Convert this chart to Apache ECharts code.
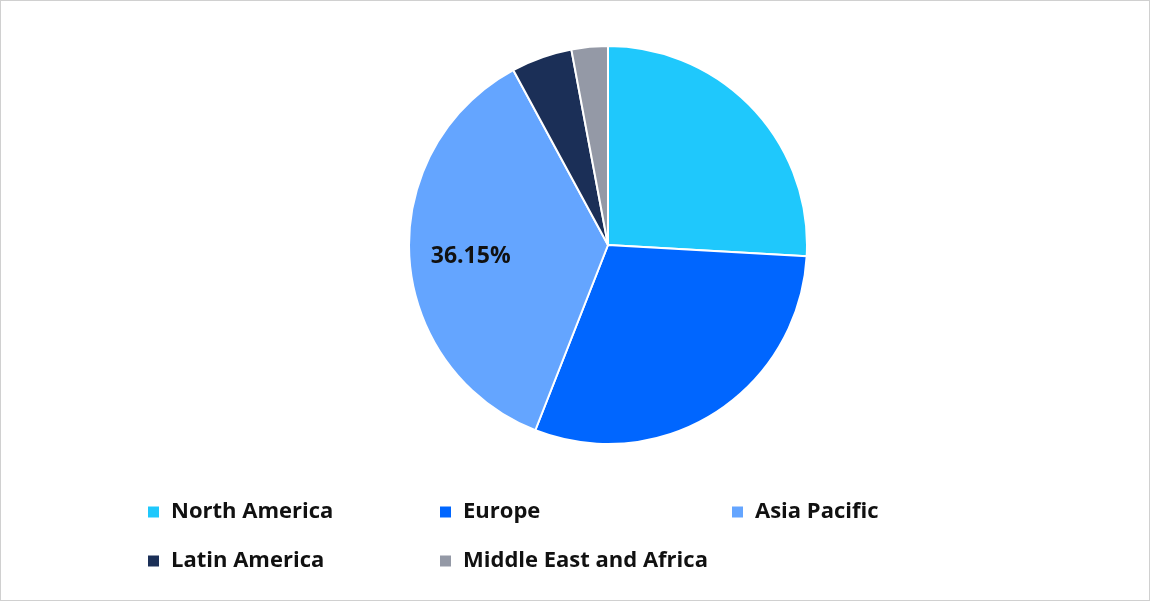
<!DOCTYPE html>
<html><head><meta charset="utf-8">
<script src="https://cdn.jsdelivr.net/npm/echarts@6/dist/echarts.min.js"></script>
<style>html,body{margin:0;padding:0;background:#fff}#c{width:1148px;height:599px;border:1px solid #d0d0d0}</style>
</head><body><div id="c"></div>
<script>
var regions = ["North America", "Europe", "Asia Pacific", "Latin America", "Middle East and Africa"];
var shares = [25.9, 30.05, 36.15, 4.95, 2.95];
var colors = ["#1fc8fc", "#0066ff", "#64a5ff", "#1b2f57", "#9499a6"];

var font = "'Open Sans', 'Noto Sans', sans-serif";
function legendCol(left, names) {
    return {
        left: left, top: 495, orient: "vertical", itemGap: 27,
        itemWidth: 13, itemHeight: 13, icon: "rect",
        textStyle: {fontFamily: font, fontSize: 22, fontWeight: "bold", color: "#111", padding: [0, 0, 0, 6]},
        data: names, selectedMode: false
    };
}

var myChart = echarts.init(document.getElementById("c"));
myChart.setOption({
    color: colors,
    legend: [
        legendCol(140, [regions[0], regions[3]]),
        legendCol(432, [regions[1], regions[4]]),
        legendCol(724, [regions[2]])
    ],
    series: [{
        type: "pie",
        radius: 199,
        center: [607, 244],
        startAngle: 90,
        clockwise: true,
        animation: false,
        itemStyle: {borderColor: "#fff", borderWidth: 2},
        label: {show: false},
        labelLine: {show: false},
        data: regions.map(function (n, i) {
            var d = {name: n, value: shares[i]};
            if (i === 2) d.label = {
                show: true, position: "inside", offset: [-35, 5],
                formatter: "36.15%", fontFamily: font, fontSize: 23, fontWeight: "bold", color: "#111"
            };
            return d;
        })
    }]
});
</script></body></html>
